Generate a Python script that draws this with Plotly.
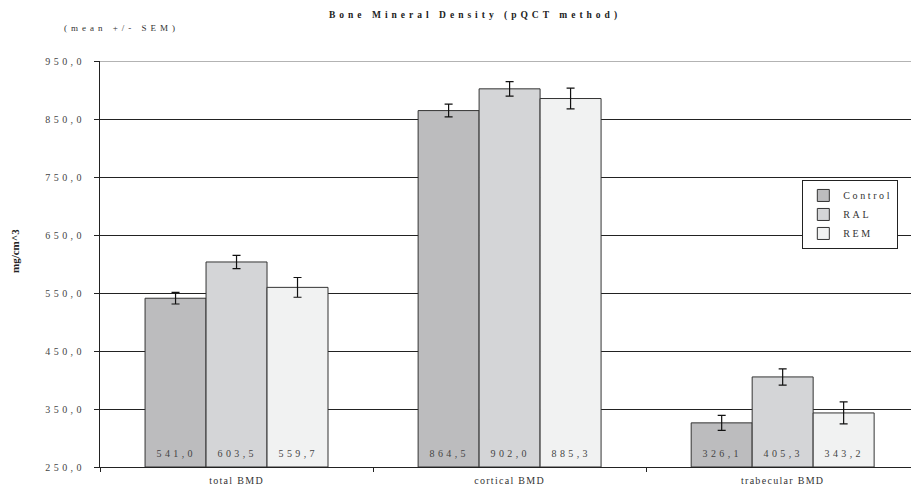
import plotly.graph_objects as go

categories = ["total BMD", "cortical BMD", "trabecular BMD"]
series_names = ["Control", "RAL", "REM"]
control_vals = [541.0, 864.5, 326.1]
ral_vals = [603.5, 902.0, 405.3]
rem_vals = [559.7, 885.3, 343.2]
control_err = [10, 11, 13]
ral_err = [11.5, 12.5, 14]
rem_err = [17, 18, 19]
y_ticks = [250, 350, 450, 550, 650, 750, 850, 950]
y_ticktext = ["250,0", "350,0", "450,0", "550,0", "650,0", "750,0", "850,0", "950,0"]
colors = ["#bcbcbe", "#d4d5d7", "#f1f2f2"]

BASE = 250
FONT = "Liberation Serif, Times New Roman, serif"
BAR_PX = 61  # width of one bar in pixels (for label offsets)

fig = go.Figure()
all_vals = [control_vals, ral_vals, rem_vals]
for name, vals, errs, col in zip(series_names, all_vals,
                                  [control_err, ral_err, rem_err], colors):
    fig.add_trace(go.Bar(
        name=name,
        x=categories,
        y=[v - BASE for v in vals],
        base=BASE,
        marker=dict(color=col, line=dict(color="#333333", width=1)),
        error_y=dict(type="data", array=errs, color="#111111", thickness=1.2, width=4),
        hovertext=[f"{v:.1f}".replace(".", ",") for v in vals],
    ))

annotations = [
    dict(text="<b>Bone Mineral Density (pQCT method)</b>", xref="paper", yref="paper",
         x=0.4618, y=(467 - 15) / 406, xanchor="center", yanchor="middle", showarrow=False,
         font=dict(family=FONT, size=9.5, color="#222222")),
    dict(text="(mean +/- SEM)", xref="paper", yref="paper",
         x=(90 - 100) / 811, y=(467 - 28) / 406, xanchor="left", yanchor="middle", showarrow=False,
         font=dict(family=FONT, size=9, color="#333333")),
    dict(text="<b>mg/cm^3</b>", xref="paper", yref="paper",
         x=(15 - 100) / 811, y=(467 - 251) / 406, xanchor="center", yanchor="middle",
         textangle=-90, showarrow=False,
         font=dict(family=FONT, size=11, color="#222222")),
]
for si, vals in enumerate(all_vals):
    for ci, v in enumerate(vals):
        annotations.append(dict(
            text=f"{v:.1f}".replace(".", ","), x=categories[ci], y=BASE, xref="x", yref="y",
            xshift=(si - 1) * BAR_PX + 1, yshift=14, xanchor="center", yanchor="middle",
            showarrow=False, font=dict(family=FONT, size=10, color="#444444")))

fig.update_layout(
    width=911, height=492,
    margin=dict(l=100, r=0, t=61, b=25),
    barmode="group", bargap=0.33, bargroupgap=0,
    plot_bgcolor="white", paper_bgcolor="white",
    font=dict(family=FONT, size=10, color="#333333"),
    showlegend=True,
    legend=dict(x=0.866, y=0.707, xanchor="left", yanchor="top",
                bgcolor="white", bordercolor="#222222", borderwidth=1,
                font=dict(family=FONT, size=10, color="#333333"),
                tracegroupgap=0, itemwidth=30),
    xaxis=dict(range=[-0.5, 2.47], showline=True, linecolor="#222222", linewidth=1,
               ticks="outside", tickson="boundaries", ticklen=4, tickcolor="#222222",
               ticklabelstandoff=4,
               showgrid=False, tickfont=dict(family=FONT, size=10, color="#333333")),
    yaxis=dict(range=[250, 950], tickvals=y_ticks, ticktext=y_ticktext,
               showline=True, linecolor="#222222", linewidth=1.3,
               ticks="outside", ticklen=5, tickcolor="#222222", ticklabelstandoff=7,
               showgrid=True, gridcolor="#222222", gridwidth=1, zeroline=False,
               tickfont=dict(family=FONT, size=10, color="#444444")),
    shapes=[dict(type="line", xref="paper", yref="y", x0=0, x1=1, y0=950, y1=950,
                 line=dict(color="#9a9a9a", width=1.5))],
    annotations=annotations,
)

post = """
var s = document.createElement('style');
s.textContent = 'body{margin:0} .ytick text{letter-spacing:3.4px} ' +
  '.xtick text{letter-spacing:1.3px} .legendtext{letter-spacing:2.6px} ' +
  '.annotation-text{letter-spacing:3.4px} ' +
  '.annotation[data-index="0"] .annotation-text{letter-spacing:4px} ' +
  '.annotation[data-index="1"] .annotation-text{letter-spacing:4px} ' +
  '.annotation[data-index="2"] .annotation-text{letter-spacing:0px}';
document.head.appendChild(s);
var gd = document.getElementById('{plot_id}');
Plotly.relayout(gd, {'legend.font.size': 10.01});
"""

fig.write_html("out.html", post_script=post, config={"displayModeBar": False})
